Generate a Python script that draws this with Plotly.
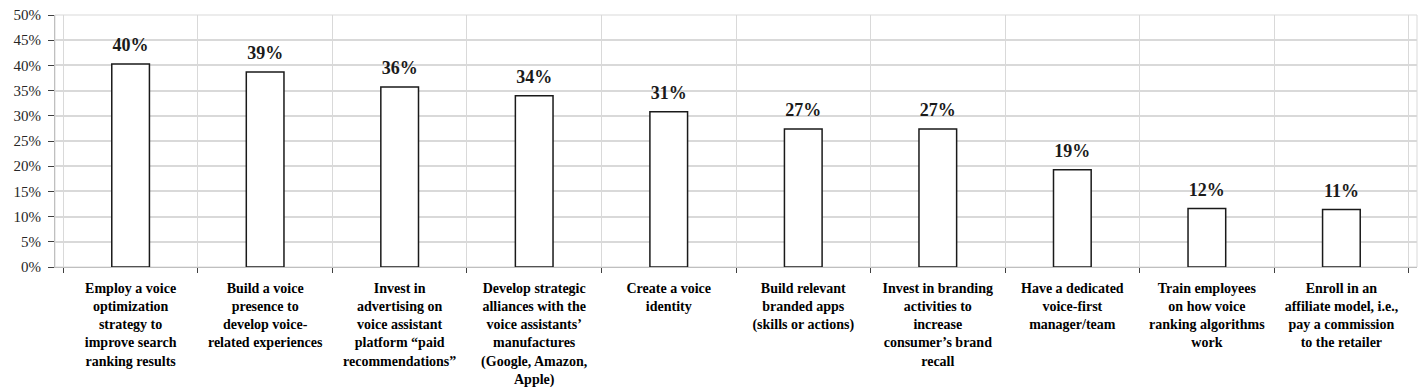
import plotly.graph_objects as go

categories = [
    "Employ a voice<br>optimization<br>strategy to<br>improve search<br>ranking results",
    "Build a voice<br>presence to<br>develop voice-<br>related experiences",
    "Invest in<br>advertising on<br>voice assistant<br>platform “paid<br>recommendations”",
    "Develop strategic<br>alliances with the<br>voice assistants’<br>manufactures<br>(Google, Amazon,<br>Apple)",
    "Create a voice<br>identity",
    "Build relevant<br>branded apps<br>(skills or actions)",
    "Invest in branding<br>activities to<br>increase<br>consumer’s brand<br>recall",
    "Have a dedicated<br>voice-first<br>manager/team",
    "Train employees<br>on how voice<br>ranking algorithms<br>work",
    "Enroll in an<br>affiliate model, i.e.,<br>pay a commission<br>to the retailer",
]
values = [40.3, 38.7, 35.7, 34.0, 30.8, 27.4, 27.4, 19.3, 11.6, 11.4]
labels = ["40%", "39%", "36%", "34%", "31%", "27%", "27%", "19%", "12%", "11%"]
y_ticks = [0, 5, 10, 15, 20, 25, 30, 35, 40, 45, 50]

serif = "Liberation Serif"

fig = go.Figure()
fig.add_trace(go.Bar(
    x=categories, y=values,
    marker=dict(color="white", line=dict(color="#1a1a1a", width=1.5)),
    width=0.28,
    hoverinfo="skip",
))
fig.add_trace(go.Scatter(
    x=categories, y=values, mode="markers+text",
    text=labels, textposition="top center",
    marker=dict(size=12, color="rgba(0,0,0,0)"),
    textfont=dict(family=serif, size=18, color="#1a1a1a", weight="bold"),
    cliponaxis=False, hoverinfo="skip",
))

fig.update_layout(
    width=1425, height=387,
    margin=dict(l=55, r=8, t=15, b=120),
    plot_bgcolor="white", paper_bgcolor="white",
    showlegend=False,
    bargap=0.72,
    font=dict(family=serif),
)
fig.update_xaxes(
    type="category",
    tickson="boundaries",
    automargin=False,
    showgrid=True, gridcolor="#d9d9d9", gridwidth=1,
    showline=True, linecolor="#bfbfbf", linewidth=1,
    ticks="outside", ticklen=5, tickcolor="#404040",
    ticklabelstandoff=8,
    tickfont=dict(family=serif, size=14, color="#000000", weight="bold"),
)
fig.update_yaxes(
    range=[0, 50],
    automargin=False,
    tickvals=y_ticks,
    ticktext=[f"{v}%" for v in y_ticks],
    showgrid=True, gridcolor="#d9d9d9", gridwidth=1.5,
    showline=True, linecolor="#bfbfbf", linewidth=1,
    ticks="outside", ticklen=6, tickcolor="#404040",
    ticklabelstandoff=4,
    tickfont=dict(family=serif, size=15, color="#262626"),
    zeroline=False,
)
fig.add_shape(type="rect", xref="paper", yref="paper", x0=0, x1=1, y0=0, y1=1,
              line=dict(color="#d9d9d9", width=1), layer="below")

fig.write_html("out.html")
